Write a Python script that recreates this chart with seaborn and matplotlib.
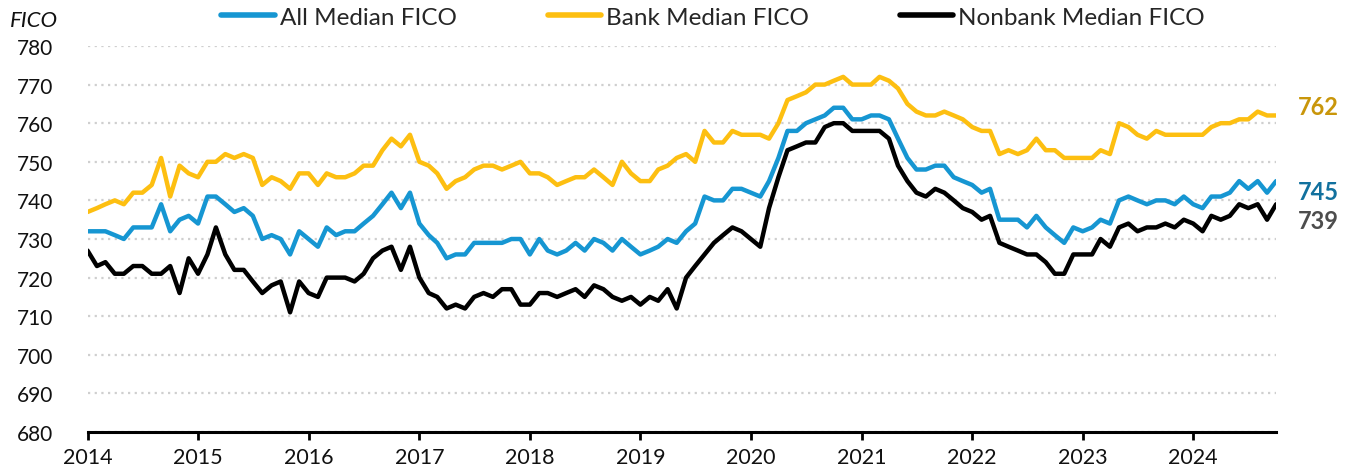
import numpy as np
import pandas as pd
import matplotlib.pyplot as plt
import matplotlib.dates as mdates
import seaborn as sns

# monthly medians, Jan 2014 - Oct 2024
months = pd.date_range("2014-01-01", periods=130, freq="MS")

bank = [
    737, 738, 739, 740, 739, 742, 742, 744, 751, 741, 749, 747,
    746, 750, 750, 752, 751, 752, 751, 744, 746, 745, 743, 747,
    747, 744, 747, 746, 746, 747, 749, 749, 753, 756, 754, 757,
    750, 749, 747, 743, 745, 746, 748, 749, 749, 748, 749, 750,
    747, 747, 746, 744, 745, 746, 746, 748, 746, 744, 750, 747,
    745, 745, 748, 749, 751, 752, 750, 758, 755, 755, 758, 757,
    757, 757, 756, 760, 766, 767, 768, 770, 770, 771, 772, 770,
    770, 770, 772, 771, 769, 765, 763, 762, 762, 763, 762, 761,
    759, 758, 758, 752, 753, 752, 753, 756, 753, 753, 751, 751,
    751, 751, 753, 752, 760, 759, 757, 756, 758, 757, 757, 757,
    757, 757, 759, 760, 760, 761, 761, 763, 762, 762,
]
all_fico = [
    732, 732, 732, 731, 730, 733, 733, 733, 739, 732, 735, 736,
    734, 741, 741, 739, 737, 738, 736, 730, 731, 730, 726, 732,
    730, 728, 733, 731, 732, 732, 734, 736, 739, 742, 738, 742,
    734, 731, 729, 725, 726, 726, 729, 729, 729, 729, 730, 730,
    726, 730, 727, 726, 727, 729, 727, 730, 729, 727, 730, 728,
    726, 727, 728, 730, 729, 732, 734, 741, 740, 740, 743, 743,
    742, 741, 745, 751, 758, 758, 760, 761, 762, 764, 764, 761,
    761, 762, 762, 761, 756, 751, 748, 748, 749, 749, 746, 745,
    744, 742, 743, 735, 735, 735, 733, 736, 733, 731, 729, 733,
    732, 733, 735, 734, 740, 741, 740, 739, 740, 740, 739, 741,
    739, 738, 741, 741, 742, 745, 743, 745, 742, 745,
]
nonbank = [
    727, 723, 724, 721, 721, 723, 723, 721, 721, 723, 716, 725,
    721, 726, 733, 726, 722, 722, 719, 716, 718, 719, 711, 719,
    716, 715, 720, 720, 720, 719, 721, 725, 727, 728, 722, 728,
    720, 716, 715, 712, 713, 712, 715, 716, 715, 717, 717, 713,
    713, 716, 716, 715, 716, 717, 715, 718, 717, 715, 714, 715,
    713, 715, 714, 717, 712, 720, 723, 726, 729, 731, 733, 732,
    730, 728, 738, 746, 753, 754, 755, 755, 759, 760, 760, 758,
    758, 758, 758, 756, 749, 745, 742, 741, 743, 742, 740, 738,
    737, 735, 736, 729, 728, 727, 726, 726, 724, 721, 721, 726,
    726, 726, 730, 728, 733, 734, 732, 733, 733, 734, 733, 735,
    734, 732, 736, 735, 736, 739, 738, 739, 735, 739,
]

series_names = ["All Median FICO", "Bank Median FICO", "Nonbank Median FICO"]
line_colors = ["#1696d2", "#fdbf11", "#000000"]
label_colors = ["#12719e", "#c9960a", "#4d4d4d"]
label_shift = [-2.6, 2.4, -4.1]  # nudge end labels apart

df = pd.DataFrame({
    "date": list(months) * 3,
    "value": all_fico + bank + nonbank,
    "series": np.repeat(series_names, len(months)),
})

sns.set_theme(style="white")
plt.rcParams["font.family"] = ["Lato", "DejaVu Sans"]

fig = plt.figure(figsize=(13.53, 4.77), dpi=100)
ax = fig.add_axes([0.0647, 0.0922, 0.8785, 0.8093])

ax.grid(axis="y", color="#cfcfcf", linestyle=(0, (1, 2)), linewidth=1.6)
ax.set_axisbelow(True)

sns.lineplot(data=df, x="date", y="value", hue="series", hue_order=series_names,
             palette=line_colors, linewidth=3.2, ax=ax, legend=False)

ax.set_ylim(680, 780)
ax.set_yticks(range(680, 781, 10))
ax.set_xlim(months[0], months[-1])
ax.xaxis.set_major_locator(mdates.YearLocator())
ax.xaxis.set_major_formatter(mdates.DateFormatter("%Y"))
ax.set_xlabel("")
ax.set_ylabel("")

for s in ["top", "right", "left"]:
    ax.spines[s].set_visible(False)
ax.spines["bottom"].set_color("black")
ax.spines["bottom"].set_linewidth(2.2)
ax.tick_params(axis="x", bottom=True, length=6, width=2, color="black",
               labelsize=15.5, pad=5, labelcolor="#111111")
ax.tick_params(axis="y", left=False, labelsize=15, pad=19, labelcolor="#111111")

# end-of-line value labels
for vals, col, shift in zip([all_fico, bank, nonbank], label_colors, label_shift):
    ax.annotate(f"{vals[-1]}", xy=(months[-1], vals[-1] + shift), xytext=(16, 0),
                textcoords="offset points", va="center", ha="left",
                fontsize=17, fontweight="bold", color=col, annotation_clip=False)

handles = [plt.Line2D([], [], color=c, linewidth=4) for c in line_colors]
fig.legend(handles, series_names, loc="center", bbox_to_anchor=(0.527, 0.962),
           ncol=3, frameon=False, fontsize=17.5, handlelength=2.2,
           handletextpad=0.2, columnspacing=3.75)

fig.text(0.007, 0.955, "FICO", style="italic", fontsize=16, va="center",
         color="#111111")

plt.savefig("out.png", dpi=100)
